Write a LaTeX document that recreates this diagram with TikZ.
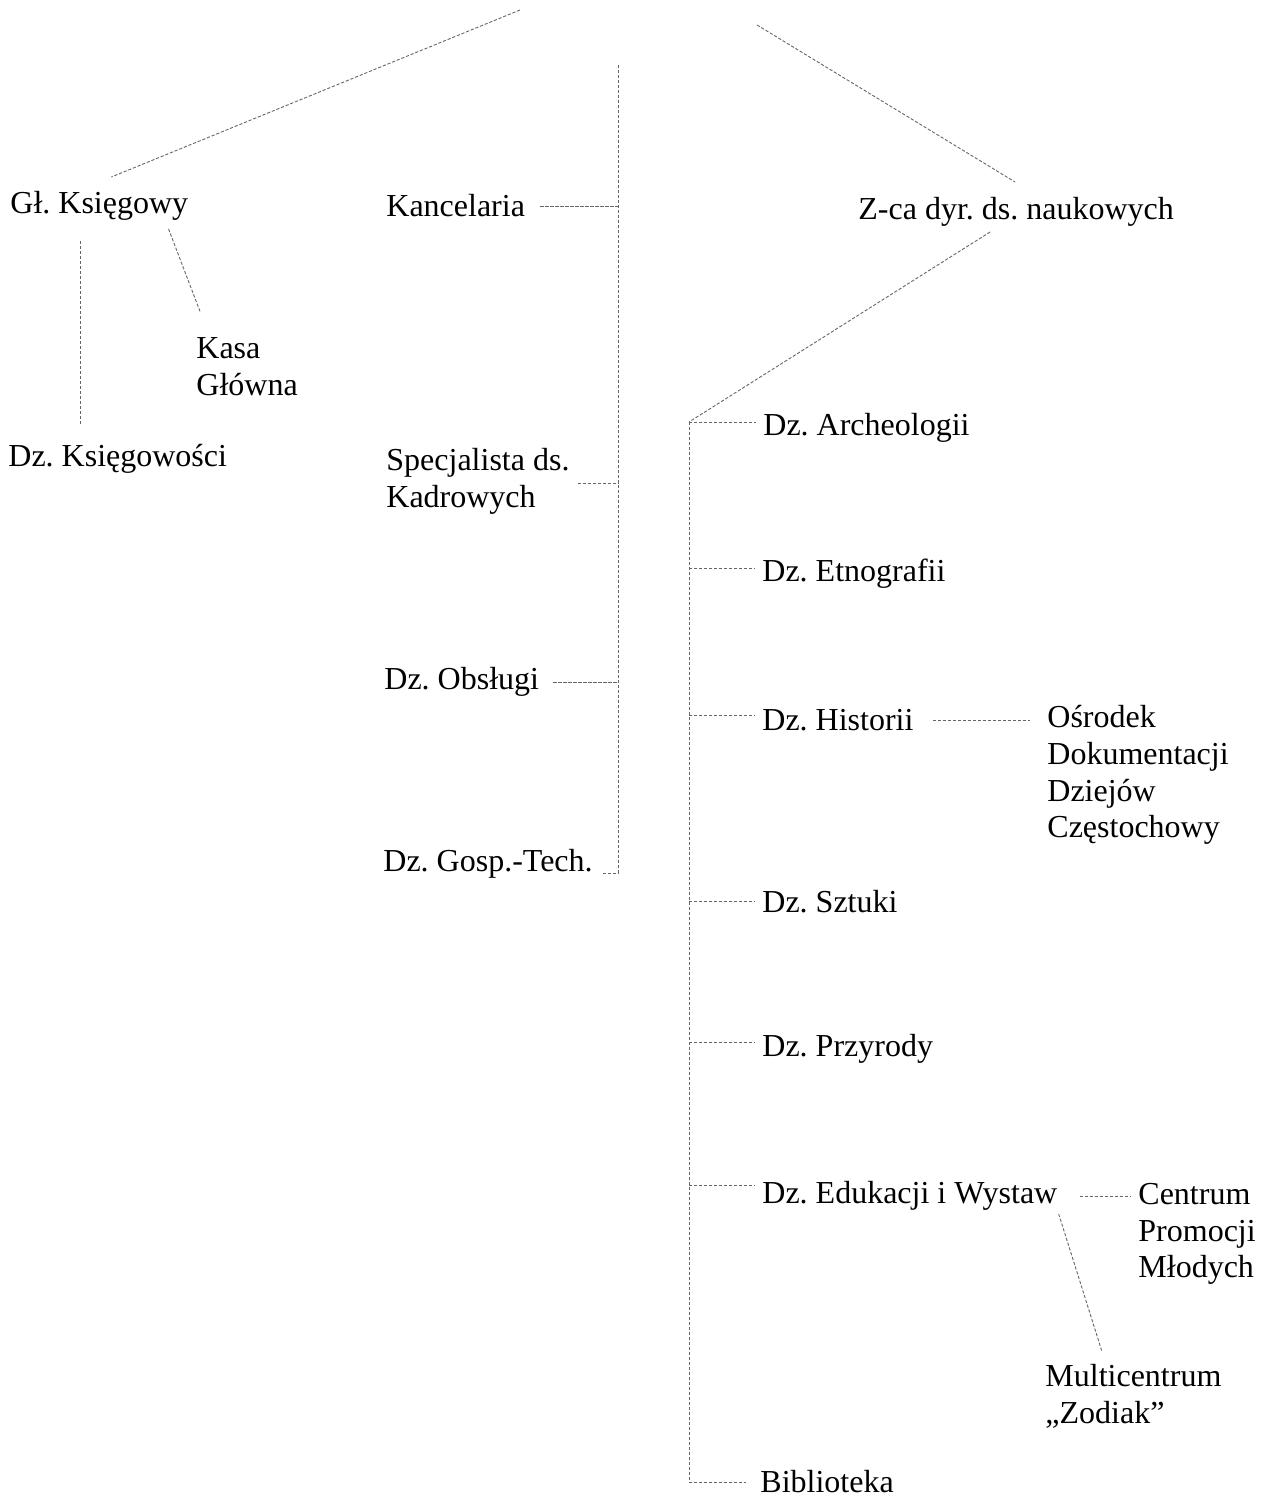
\documentclass[tikz,border=0pt]{standalone}
\usepackage{fontspec}
\setmainfont{Liberation Serif}
\usetikzlibrary{calc}
\frenchspacing

\begin{document}
\begin{tikzpicture}[
  x=0.5pt, y=-0.5pt,
  every node/.style={font=\fontsize{16pt}{18.4pt}\selectfont},
  dept/.style={anchor=west,inner sep=0pt,align=left},
  link/.style={draw=black!60,line width=0.45pt,dash pattern=on 1.6pt off 0.9pt}
]
  \useasboundingbox (0,0) rectangle (1268,1499);

  % free ends towards the director (above the sheet)
  \coordinate (dyrL) at (520,10);
  \coordinate (dyrM) at (618,65);
  \coordinate (dyrR) at (757,25);

  % left: accounting
  \node[dept] (glk)  at (10,206)  {Gł. Księgowy};
  \node[dept] (kasa) at (196,367) {Kasa\\Główna};
  \node[dept] (dzks) at (8,459)   {Dz. Księgowości};

  % middle: administration
  \node[dept] (kanc) at (386,206) {Kancelaria};
  \node[dept] (spec) at (386,481) {Specjalista ds.\\Kadrowych};
  \node[dept] (obsl) at (384,682) {Dz. Obsługi};
  \node[dept] (gosp) at (383,864) {Dz. Gosp.-Tech.};

  % right: research
  \node[dept] (zca)  at (858,212)  {Z-ca dyr. ds. naukowych};
  \node[dept] (arch) at (763,428)  {Dz. Archeologii};
  \node[dept] (etno) at (762,574)  {Dz. Etnografii};
  \node[dept] (hist) at (762,720)  {Dz. Historii};
  \node[dept] (szt)  at (762,902)  {Dz. Sztuki};
  \node[dept] (przy) at (762,1049) {Dz. Przyrody};
  \node[dept] (edu)  at (762,1196) {Dz. Edukacji i Wystaw};
  \node[dept] (bibl) at (760,1482) {Biblioteka};
  \node[dept] (osr)  at (1047,775) {Ośrodek\\Dokumentacji\\Dziejów\\Częstochowy};
  \node[dept] (cpm)  at (1138,1234) {Centrum\\Promocji\\Młodych};
  \node[dept] (multi) at (1045,1396) {Multicentrum\\„Zodiak”};

  % director links
  \draw[link] (dyrL) -- ($(glk.north)+(12,-14)$);
  \draw[link] (dyrR) -- ($(zca.north)+(-1,-15)$);
  \draw[link,shorten >=4.5pt] (dyrM) |- ($(gosp.east)+(0,9)$);
  \foreach \n/\dy/\gap in {kanc/0/7.5pt,spec/2/4pt,obsl/0/7pt}{
    \path (\n.east) ++(0,\dy) coordinate (\n-out);
    \draw[link,shorten <=\gap] (\n-out) -- (\n-out -| dyrM);
  }

  % accounting
  \draw[link,shorten <=10pt,shorten >=10pt] ($(glk.south west)+(70,0)$) -- ($(dzks.north west)+(72,0)$);
  \draw[link] ($(glk.south east)+(-20,8)$) -- ($(kasa.north)+(-47,-26)$);

  % research
  \coordinate (spine) at ($(arch.west)+(-74,-6)$);
  \draw[link] ($(zca.south)+(-26,5)$) -- (spine);
  \draw[link,shorten >=7pt] (spine) |- (bibl.west);
  \foreach \n/\dy in {arch/-6,etno/-6,hist/-5,szt/-1,przy/-7,edu/-11}{
    \path (\n.west) ++(0,\dy) coordinate (\n-in);
    \draw[link,shorten >=3.5pt] (spine |- \n-in) -- (\n-in);
  }
  \draw[link,shorten <=9.5pt,shorten >=8.5pt] (hist.east) -- (hist.east -| osr.west);
  \draw[link,shorten <=11pt,shorten >=4pt] (edu.east) -- (edu.east -| cpm.west);
  \draw[link] ($(edu.south east)+(1,3)$) -- ($(multi.north west)+(57,-12)$);
\end{tikzpicture}
\end{document}
